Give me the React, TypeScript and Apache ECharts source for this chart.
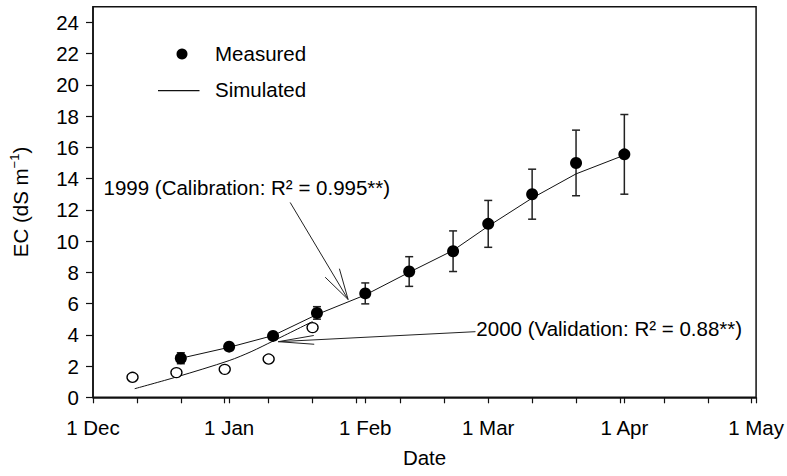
import React, { useEffect, useRef } from "react";
import * as echarts from "echarts";

// x values are days after 1 Dec 1998
const monthLabels = ["1 Dec", "1 Jan", "1 Feb", "1 Mar", "1 Apr", "1 May"];
const monthDays = [0, 31, 62, 90, 121, 151];
const minorTickDays = [10, 20, 30, 40, 50, 60, 70, 80, 100, 110, 120, 130, 140, 150];
const yTicks = [0, 2, 4, 6, 8, 10, 12, 14, 16, 18, 20, 22, 24];

const measured1999Days = [20, 31, 41, 51, 62, 72, 82, 90, 100, 110, 121];
const measured1999 = [2.5, 3.24, 3.93, 5.4, 6.65, 8.05, 9.35, 11.1, 13.0, 15.0, 15.55];
const measured1999Err = [0.35, 0.15, 0.15, 0.4, 0.67, 0.95, 1.3, 1.5, 1.6, 2.1, 2.55];

const simulated1999Days = [20, 31, 41, 51, 62, 72, 82, 90, 100, 110, 121];
const simulated1999 = [2.5, 3.2, 3.95, 5.3, 6.55, 8.0, 9.4, 10.95, 12.75, 14.3, 15.5];

const measured2000Days = [9, 19, 30, 40, 50];
const measured2000 = [1.28, 1.58, 1.79, 2.45, 4.46];

const simulated2000Days = [9.5, 19, 31, 36, 41, 50];
const simulated2000 = [0.55, 1.3, 2.35, 2.92, 3.6, 4.85];

const legendLabels = ["Measured", "Simulated"];
const note1999Text = "1999 (Calibration: R² = 0.995**)";
const note2000Text = "2000 (Validation: R² = 0.88**)";
// annotation anchors in data coordinates [day, EC]
const note1999At = [2.4, 13.45];
const note1999From = [44.9, 12.47];
const note1999Tip = [58.1, 6.26];
const note2000At = [87.3, 4.4];
const note2000From = [87.1, 4.2];
const note2000Tip = [42.2, 3.56];

const FONT = "'Liberation Sans', Arial, Helvetica, sans-serif";
const FS = 20.5;

export default function App() {
  const ref = useRef<HTMLDivElement>(null);
  useEffect(() => {
    if (!ref.current) return;
    const chart = echarts.init(ref.current, undefined, { renderer: "svg" });
    const option: any = {
      animation: false,
      backgroundColor: "#fff",
      grid: {
        left: 92.7,
        right: 29.5,
        top: 6.7,
        bottom: 78.7,
        show: true,
        borderColor: "#111",
        borderWidth: 1.5,
        backgroundColor: "transparent",
      },
      xAxis: {
        type: "value",
        min: 0,
        max: 151,
        name: "Date",
        nameLocation: "middle",
        nameGap: 50,
        nameTextStyle: { fontSize: FS, color: "#000", fontFamily: FONT },
        axisLine: { show: true, onZero: false, lineStyle: { color: "#111", width: 1.5 } },
        axisTick: {
          show: true,
          length: 6,
          customValues: [...monthDays, ...minorTickDays].sort((a, b) => a - b),
          lineStyle: { color: "#111", width: 1.2 },
        },
        axisLabel: {
          customValues: monthDays,
          formatter: (v: number) => monthLabels[monthDays.indexOf(v)] ?? "",
          fontSize: FS,
          color: "#000",
          fontFamily: FONT,
          margin: 20,
        },
        splitLine: { show: false },
      },
      yAxis: {
        type: "value",
        min: 0,
        max: 25,
        name: "{a|EC (dS m}{s|−1}{a|)}",
        nameLocation: "middle",
        nameGap: 60,
        nameRotate: 90,
        nameTextStyle: {
          fontFamily: FONT,
          color: "#000",
          rich: {
            a: { fontSize: FS, color: "#000", fontFamily: FONT },
            s: { fontSize: 13, color: "#000", fontFamily: FONT, padding: [0, 0, 12, 0] },
          },
        },
        axisLine: { show: true, onZero: false, lineStyle: { color: "#111", width: 1.5 } },
        axisTick: {
          show: true,
          length: 7,
          customValues: yTicks,
          lineStyle: { color: "#111", width: 1.2 },
        },
        axisLabel: {
          customValues: yTicks,
          fontSize: FS,
          color: "#000",
          fontFamily: FONT,
          margin: 14,
        },
        splitLine: { show: false },
      },
      series: [
        {
          type: "custom",
          name: "err1999",
          data: measured1999Days.map((d, i) => [d, measured1999[i], measured1999Err[i]]),
          encode: { x: 0, y: 1 },
          z: 2,
          renderItem: (params: any, api: any) => {
            const x = api.value(0);
            const y = api.value(1);
            const e = api.value(2);
            const hi = api.coord([x, y + e]);
            const lo = api.coord([x, y - e]);
            const w = 4;
            const style = { stroke: "#222", lineWidth: 1.5 };
            return {
              type: "group",
              children: [
                { type: "line", shape: { x1: hi[0], y1: hi[1], x2: lo[0], y2: lo[1] }, style },
                { type: "line", shape: { x1: hi[0] - w, y1: hi[1], x2: hi[0] + w, y2: hi[1] }, style },
                { type: "line", shape: { x1: lo[0] - w, y1: lo[1], x2: lo[0] + w, y2: lo[1] }, style },
              ],
            };
          },
        },
        {
          type: "line",
          name: "sim1999",
          data: simulated1999Days.map((d, i) => [d, simulated1999[i]]),
          symbol: "none",
          lineStyle: { color: "#111", width: 1 },
          z: 3,
        },
        {
          type: "line",
          name: "sim2000",
          data: simulated2000Days.map((d, i) => [d, simulated2000[i]]),
          symbol: "none",
          smooth: 0.3,
          lineStyle: { color: "#111", width: 1 },
          z: 3,
        },
        {
          type: "scatter",
          name: "meas1999",
          data: measured1999Days.map((d, i) => [d, measured1999[i]]),
          symbol: "circle",
          symbolSize: 12,
          itemStyle: { color: "#000", opacity: 1 },
          z: 4,
        },
        {
          type: "scatter",
          name: "meas2000",
          data: measured2000Days.map((d, i) => [d, measured2000[i]]),
          symbol: "circle",
          symbolSize: [11, 10],
          itemStyle: { color: "#fff", borderColor: "#000", borderWidth: 1.3, opacity: 1 },
          z: 4,
        },
      ],
    };
    chart.setOption(option);

    const px = (p: number[]) => chart.convertToPixel({ gridIndex: 0 }, p) as number[];
    const arrow = (from: number[], tip: number[], len: number, deg: number) => {
      const a = px(from);
      const t = px(tip);
      const ang = Math.atan2(a[1] - t[1], a[0] - t[0]);
      const r = (deg * Math.PI) / 180;
      const b1 = [t[0] + len * Math.cos(ang + r), t[1] + len * Math.sin(ang + r)];
      const b2 = [t[0] + len * Math.cos(ang - r), t[1] + len * Math.sin(ang - r)];
      const st = { stroke: "#222", lineWidth: 1 };
      return [
        { type: "line", shape: { x1: a[0], y1: a[1], x2: t[0], y2: t[1] }, style: st, z: 10 },
        { type: "line", shape: { x1: t[0], y1: t[1], x2: b1[0], y2: b1[1] }, style: st, z: 10 },
        { type: "line", shape: { x1: t[0], y1: t[1], x2: b2[0], y2: b2[1] }, style: st, z: 10 },
      ];
    };
    const n1 = px(note1999At);
    const n2 = px(note2000At);
    const textStyle = (text: string, x: number, y: number) => ({
      type: "text",
      x,
      y,
      z: 10,
      style: {
        text,
        fontSize: FS,
        fontFamily: FONT,
        fill: "#000",
        textAlign: "left",
        textVerticalAlign: "middle",
      },
    });
    chart.setOption({
      graphic: [
        { type: "circle", shape: { cx: 182, cy: 54, r: 5.5 }, style: { fill: "#000" }, z: 10 },
        textStyle(legendLabels[0], 215, 53),
        { type: "line", shape: { x1: 158, y1: 90.7, x2: 199.5, y2: 90.7 }, style: { stroke: "#111", lineWidth: 1.2 }, z: 10 },
        textStyle(legendLabels[1], 215, 89.5),
        textStyle(note1999Text, n1[0], n1[1]),
        ...arrow(note1999From, note1999Tip, 32, 15),
        textStyle(note2000Text, n2[0], n2[1]),
        ...arrow(note2000From, note2000Tip, 36, 7),
      ],
    });
    return () => chart.dispose();
  }, []);
  return (
    <div
      ref={ref}
      style={{ position: "fixed", left: 0, top: 0, width: 787, height: 476, background: "#fff" }}
    />
  );
}
